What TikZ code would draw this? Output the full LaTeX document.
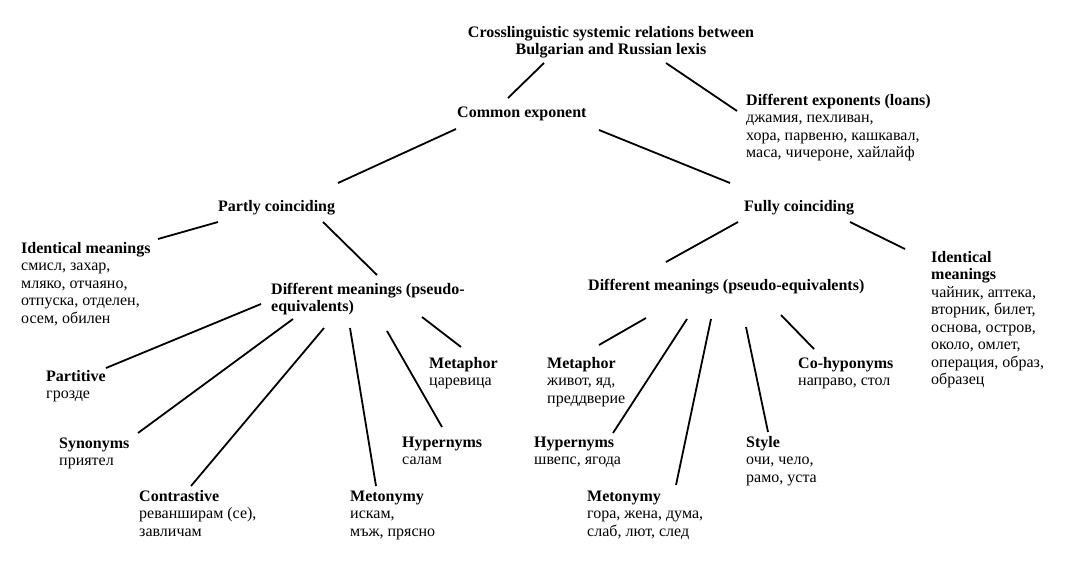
\documentclass[tikz,border=0pt]{standalone}
\usepackage{fontspec}
\setmainfont{Liberation Serif}
\begin{document}
\begin{tikzpicture}[x=1pt,y=-1pt,
  lbl/.style={anchor=north west, inner sep=0pt, align=left, font=\fontsize{16}{17.5}\selectfont},
  conn/.style={line width=1.8pt}]
\useasboundingbox[fill=white] (0,0) rectangle (1065,562);
% nodes (x = left edge, y = first baseline - 12.25)
\node[lbl, anchor=north, align=center] (title) at (611,37-12.25) {\strut\textbf{Crosslinguistic systemic relations between}\\\textbf{Bulgarian and Russian lexis}};
\node[lbl] (common) at (457,117-12.25) {\strut\textbf{Common exponent}};
\node[lbl] (diffexp) at (746,105-12.25) {\strut\textbf{Different exponents (loans)}\\джамия, пехливан,\\хора, парвеню, кашкавал,\\маса, чичероне, хайлайф};
\node[lbl] (partly) at (218,211-12.25) {\strut\textbf{Partly coinciding}};
\node[lbl] (fully) at (744,211-12.25) {\strut\textbf{Fully coinciding}};
\node[lbl] (identL) at (21,253-12.25) {\strut\textbf{Identical meanings}\\смисл, захар,\\мляко, отчаяно,\\отпуска, отделен,\\осем, обилен};
\node[lbl] (diffL) at (271,294-12.25) {\strut\textbf{Different meanings (pseudo-}\\\textbf{equivalents)}};
\node[lbl] (diffR) at (588,290-12.25) {\strut\textbf{Different meanings (pseudo-equivalents)}};
\node[lbl] (identR) at (931,262-12.25) {\strut\textbf{Identical}\\\textbf{meanings}\\чайник, аптека,\\вторник, билет,\\основа, остров,\\около, омлет,\\операция, образ,\\образец};
\node[lbl] (partitive) at (46,381-12.25) {\strut\textbf{Partitive}\\грозде};
\node[lbl] (synonyms) at (59,448-12.25) {\strut\textbf{Synonyms}\\приятел};
\node[lbl] (contrastive) at (139,501-12.25) {\strut\textbf{Contrastive}\\реванширам (се),\\завличам};
\node[lbl] (metonymyL) at (350,501-12.25) {\strut\textbf{Metonymy}\\искам,\\мъж, прясно};
\node[lbl] (hypernymsL) at (402,447-12.25) {\strut\textbf{Hypernyms}\\салам};
\node[lbl] (metaphorL) at (429,368-12.25) {\strut\textbf{Metaphor}\\царевица};
\node[lbl] (metaphorR) at (547,368-12.25) {\strut\textbf{Metaphor}\\живот, яд,\\преддверие};
\node[lbl] (hypernymsR) at (534,447-12.25) {\strut\textbf{Hypernyms}\\швепс, ягода};
\node[lbl] (metonymyR) at (587,501-12.25) {\strut\textbf{Metonymy}\\гора, жена, дума,\\слаб, лют, след};
\node[lbl] (style) at (746,447-12.25) {\strut\textbf{Style}\\очи, чело,\\рамо, уста};
\node[lbl] (cohyp) at (798,368-12.25) {\strut\textbf{Co-hyponyms}\\направо, стол};
% connector end points
\coordinate (title-common) at (544,63);   \coordinate (common-title) at (508,98);
\coordinate (title-diffexp) at (666,63);  \coordinate (diffexp-title) at (737,111);
\coordinate (common-partly) at (456,129); \coordinate (partly-common) at (338,183);
\coordinate (common-fully) at (599,130);  \coordinate (fully-common) at (730,183);
\coordinate (partly-identL) at (218,222); \coordinate (identL-partly) at (158,239);
\coordinate (partly-diffL) at (323,222);  \coordinate (diffL-partly) at (377,275);
\coordinate (diffL-partitive) at (261,304); \coordinate (partitive-diffL) at (106,368);
\coordinate (diffL-synonyms) at (293,319);  \coordinate (synonyms-diffL) at (138,433);
\coordinate (diffL-contrastive) at (324,328); \coordinate (contrastive-diffL) at (191,486);
\coordinate (diffL-metonymyL) at (350,328); \coordinate (metonymyL-diffL) at (376,486);
\coordinate (diffL-hypernymsL) at (387,331); \coordinate (hypernymsL-diffL) at (442,427);
\coordinate (diffL-metaphorL) at (422,317); \coordinate (metaphorL-diffL) at (461,347);
\coordinate (fully-diffR) at (738,222);  \coordinate (diffR-fully) at (666,262);
\coordinate (fully-identR) at (850,222); \coordinate (identR-fully) at (905,249);
\coordinate (diffR-metaphorR) at (646,318); \coordinate (metaphorR-diffR) at (599,345);
\coordinate (diffR-hypernymsR) at (687,319); \coordinate (hypernymsR-diffR) at (613,433);
\coordinate (diffR-metonymyR) at (711,319); \coordinate (metonymyR-diffR) at (676,485);
\coordinate (diffR-style) at (746,327); \coordinate (style-diffR) at (768,432);
\coordinate (diffR-cohyp) at (781,315); \coordinate (cohyp-diffR) at (814,349);
\foreach \a/\b in {title/common, title/diffexp, common/partly, common/fully,
  partly/identL, partly/diffL, diffL/partitive, diffL/synonyms, diffL/contrastive,
  diffL/metonymyL, diffL/hypernymsL, diffL/metaphorL, fully/diffR, fully/identR,
  diffR/metaphorR, diffR/hypernymsR, diffR/metonymyR, diffR/style, diffR/cohyp}
  \draw[conn] (\a-\b) -- (\b-\a);
\end{tikzpicture}
\end{document}
